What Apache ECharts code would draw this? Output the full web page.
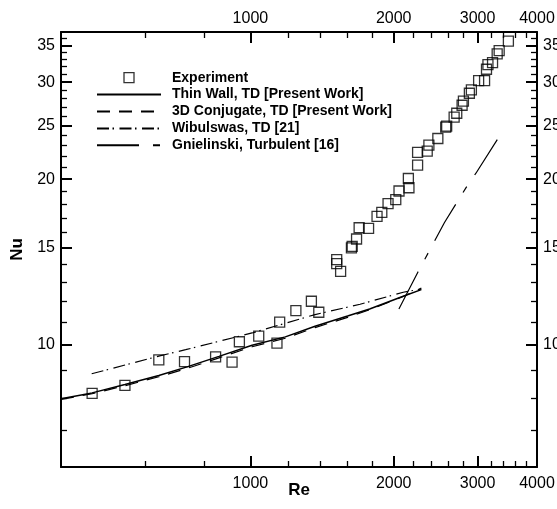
<!DOCTYPE html>
<html>
<head>
<meta charset="utf-8">
<script src="https://cdn.jsdelivr.net/npm/echarts@6/dist/echarts.min.js"></script>
<style>
html,body{margin:0;padding:0;background:#fff;}
#chart{width:557px;height:509px;}
</style>
</head>
<body>
<div id="chart"></div>
<script>
// ---- data ----
const expRe = [465, 545, 642, 727, 845, 915, 948, 1041, 1152, 1137, 1246, 1343, 1392,
  1518, 1518, 1547, 1630, 1636, 1671, 1692, 1771, 1845, 1888, 1946, 2020, 2052, 2153, 2147,
  2245, 2245, 2352, 2371, 2476, 2572, 2584, 2679, 2713, 2784, 2802, 2884, 2912, 3016, 3104,
  3133, 3155, 3226, 3299, 3331, 3483];
const expNu = [8.16, 8.44, 9.39, 9.32, 9.51, 9.30, 10.13, 10.37, 11.0, 10.07, 11.54, 12.0, 11.46,
  14.28, 14.04, 13.6, 15.0, 15.1, 15.57, 16.32, 16.27, 17.12, 17.40, 18.05, 18.35, 19.03, 19.29, 20.05,
  21.2, 22.36, 22.48, 23.06, 23.7, 24.85, 24.95, 25.91, 26.34, 27.24, 27.70, 28.64, 29.04, 30.2, 30.2,
  31.66, 32.28, 32.55, 33.76, 34.23, 35.6];

const thinRe = [400, 465, 545, 642, 736, 859, 1008, 1184, 1367, 1600, 1780, 2094, 2286];
const thinNu = [7.98, 8.18, 8.47, 8.80, 9.12, 9.53, 9.98, 10.34, 10.81, 11.28, 11.62, 12.25, 12.6];

const conjRe = [400, 465, 545, 642, 736, 859, 1008, 1184, 1367, 1600, 1780, 2094, 2286];
const conjNu = [7.96, 8.15, 8.43, 8.75, 9.06, 9.47, 9.92, 10.28, 10.75, 11.22, 11.58, 12.24, 12.68];

const wibRe = [464, 642, 731, 1008, 1367, 1700, 2094, 2286];
const wibNu = [8.86, 9.54, 9.80, 10.51, 11.35, 11.85, 12.46, 12.63];

const gniRe = [2051, 2249, 2557, 2838, 2977, 3315];
const gniNu = [11.62, 13.56, 16.68, 19.3, 20.5, 23.73];

const xTickLabels = [1000, 2000, 3000, 4000];
const xMajorTicks = [1000, 2000, 3000];
const xMinorTicks = [600, 800, 1200, 1400, 1600, 1800, 2200, 2400, 2600, 2800, 3200, 3400, 3600, 3800];
const yTickLabels = [10, 15, 20, 25, 30, 35];
const yMajorTicks = [10, 15, 20, 25, 30, 35];
const yMinorTicks = [7, 8, 9, 11, 12, 13, 14, 16, 17, 18, 19, 21, 22, 23, 24, 26, 27, 28, 29, 31, 32, 33, 34, 36];

const RE_MIN = 400, RE_MAX = 4000, NU_MIN = 6, NU_MAX = 37;

// ---- chart ----
const lg = Math.log10;
const FONT = '"Liberation Sans", Arial, Helvetica, sans-serif';
const pairs = (a, b) => a.map((v, i) => [v, b[i]]);
const NOFILL = 'rgba(0,0,0,0)';

function helper(dim, pos, tickVals, len, tickW, labelVals, showLine, margin, extra) {
  const lo = dim === 'x' ? RE_MIN : NU_MIN;
  const hi = dim === 'x' ? RE_MAX : NU_MAX;
  return Object.assign({
    type: 'value', gridIndex: 0, position: pos,
    min: lg(lo), max: lg(hi),
    axisLine: { show: showLine, onZero: false, lineStyle: { color: '#000', width: 2 } },
    axisTick: { show: tickVals.length > 0, inside: true, length: len,
      customValues: tickVals.map(lg), lineStyle: { color: '#000', width: tickW } },
    axisLabel: { show: labelVals.length > 0, customValues: labelVals.map(lg),
      formatter: v => String(Math.round(Math.pow(10, v))),
      color: '#000', fontSize: 16, fontFamily: FONT, margin: margin, hideOverlap: false },
    splitLine: { show: false }, minorTick: { show: false }, minorSplitLine: { show: false },
    splitArea: { show: false }, silent: true, nameMoveOverlap: false
  }, extra || {});
}

const lineLegend = name => ({ name: name, itemStyle: { color: NOFILL, borderWidth: 0, opacity: 0 } });

const chart = echarts.init(document.getElementById('chart'), null, { renderer: 'canvas' });
chart.setOption({
  animation: false,
  backgroundColor: '#fff',
  grid: { left: 61, right: 20, top: 32, bottom: 42, containLabel: false, outerBoundsMode: 'none' },
  legend: {
    orient: 'vertical', left: 96, top: 70.7, padding: 0,
    itemWidth: 64, itemHeight: 10, itemGap: 2.9,
    textStyle: { color: '#000', fontWeight: 'bold', fontSize: 14, fontFamily: FONT, padding: [0, 0, 0, 6] },
    data: [
      { name: 'Experiment', icon: 'path://M0,0L10,0L10,10L0,10Z',
        itemStyle: { color: NOFILL, borderColor: '#000', borderWidth: 1.3 } },
      lineLegend('Thin Wall, TD [Present Work]'),
      lineLegend('3D Conjugate, TD [Present Work]'),
      lineLegend('Wibulswas, TD [21]'),
      lineLegend('Gnielinski, Turbulent [16]')
    ],
    selectedMode: false
  },
  xAxis: [
    { type: 'log', gridIndex: 0, position: 'bottom', min: RE_MIN, max: RE_MAX, logBase: 10, show: false },
    helper('x', 'bottom', xMajorTicks, 11, 2, xTickLabels, true, 9,
      { name: 'Re', nameLocation: 'middle', nameGap: 15,
        nameTextStyle: { color: '#000', fontWeight: 'bold', fontSize: 17, fontFamily: FONT } }),
    helper('x', 'bottom', xMinorTicks, 6, 1.3, [], false, 8),
    helper('x', 'top', xMajorTicks, 11, 2, xTickLabels, true, 5),
    helper('x', 'top', xMinorTicks, 6, 1.3, [], false, 8)
  ],
  yAxis: [
    { type: 'log', gridIndex: 0, position: 'left', min: NU_MIN, max: NU_MAX, logBase: 10, show: false },
    helper('y', 'left', yMajorTicks, 11, 2, yTickLabels, true, 6,
      { name: 'Nu', nameLocation: 'middle', nameGap: 35,
        nameTextStyle: { color: '#000', fontWeight: 'bold', fontSize: 17, fontFamily: FONT } }),
    helper('y', 'left', yMinorTicks, 6, 1.3, [], false, 8),
    helper('y', 'right', yMajorTicks, 11, 2, yTickLabels, true, 6),
    helper('y', 'right', yMinorTicks, 6, 1.3, [], false, 8)
  ],
  series: [
    { name: 'Experiment', type: 'scatter', xAxisIndex: 0, yAxisIndex: 0,
      symbol: 'rect', symbolSize: 10, data: pairs(expRe, expNu), z: 5,
      itemStyle: { color: NOFILL, borderColor: '#000', borderWidth: 1.3 } },
    { name: 'Thin Wall, TD [Present Work]', type: 'line', xAxisIndex: 0, yAxisIndex: 0,
      symbol: 'none', showSymbol: false, data: pairs(thinRe, thinNu),
      itemStyle: { color: NOFILL, borderWidth: 0 },
      lineStyle: { color: '#000', width: 1.5, type: 'solid' } },
    { name: '3D Conjugate, TD [Present Work]', type: 'line', xAxisIndex: 0, yAxisIndex: 0,
      symbol: 'none', showSymbol: false, data: pairs(conjRe, conjNu),
      itemStyle: { color: NOFILL, borderWidth: 0 },
      lineStyle: { color: '#000', width: 1.2, type: [13, 9] } },
    { name: 'Wibulswas, TD [21]', type: 'line', xAxisIndex: 0, yAxisIndex: 0,
      symbol: 'none', showSymbol: false, data: pairs(wibRe, wibNu),
      itemStyle: { color: NOFILL, borderWidth: 0 },
      lineStyle: { color: '#000', width: 1.2, type: [12, 3.5, 1.5, 5.5] } },
    { name: 'Gnielinski, Turbulent [16]', type: 'line', xAxisIndex: 0, yAxisIndex: 0,
      symbol: 'none', showSymbol: false, data: pairs(gniRe, gniNu),
      itemStyle: { color: NOFILL, borderWidth: 0 },
      lineStyle: { color: '#000', width: 1.2, type: [42, 14, 7, 14] } }
  ]
});
</script>
</body>
</html>
